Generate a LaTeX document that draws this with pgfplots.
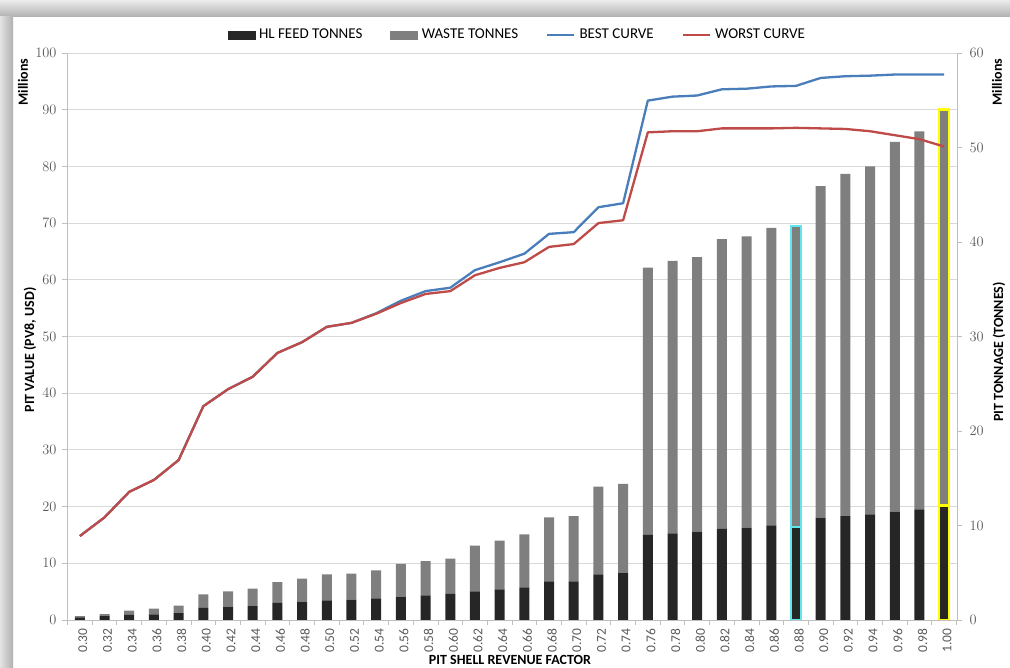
\documentclass[border=0pt]{standalone}
\usepackage{pgfplots}
\pgfplotsset{compat=1.18}
\usepackage{pgfplotstable}
\usepackage{fontspec}
\setmainfont{Carlito}

\definecolor{hlc}{HTML}{262626}
\definecolor{wastec}{HTML}{7F7F7F}
\definecolor{bestc}{HTML}{4A7EBB}
\definecolor{worstc}{HTML}{BE4B48}
\definecolor{cyanc}{HTML}{5FE6EE}
\definecolor{yelc}{HTML}{FFFF00}
\definecolor{gridc}{HTML}{D9D9D9}
\definecolor{axisc}{HTML}{BFBFBF}
\definecolor{tickc}{HTML}{595959}

\pgfplotstableread{
x hl waste best worst
0 0.28 0.14 14.8 14.8
1 0.40 0.23 18.1 18.1
2 0.53 0.46 22.6 22.6
3 0.60 0.60 24.7 24.7
4 0.74 0.77 28.2 28.2
5 1.27 1.45 37.7 37.7
6 1.41 1.62 40.7 40.7
7 1.48 1.83 42.9 42.9
8 1.80 2.22 47.1 47.1
9 1.94 2.43 49.0 49.0
10 2.08 2.75 51.7 51.7
11 2.15 2.75 52.4 52.4
12 2.29 2.97 54.1 54.0
13 2.47 3.46 56.3 55.9
14 2.61 3.63 58.0 57.5
15 2.77 3.72 58.6 58.0
16 3.03 4.83 61.7 60.8
17 3.24 5.15 63.1 62.1
18 3.46 5.60 64.6 63.1
19 4.09 6.77 68.1 65.8
20 4.09 6.91 68.4 66.3
21 4.83 9.27 72.8 70.0
22 5.00 9.40 73.5 70.5
23 9.00 28.30 91.6 86.0
24 9.17 28.83 92.3 86.2
25 9.35 29.05 92.5 86.2
26 9.63 30.67 93.6 86.7
27 9.77 30.83 93.7 86.7
28 10.00 31.50 94.1 86.7
29 9.87 31.83 94.2 86.8
30 10.83 35.07 95.6 86.7
31 11.00 36.20 95.9 86.6
32 11.18 36.82 96.0 86.2
33 11.46 39.14 96.2 85.5
34 11.70 40.00 96.2 84.8
35 12.10 41.90 96.2 83.5
}\data

\pgfplotsset{
  base/.style={
    scale only axis, width=890pt, height=567pt,
    at={(67pt,48pt)}, anchor=south west,
    xmin=-0.52, xmax=35.52,
  },
  hiddenbars/.style={base, ymin=0, ymax=60, hide axis, ybar stacked, bar width=10pt},
}

\begin{document}
\begin{tikzpicture}[x=1pt,y=1pt]
\path[use as bounding box] (0,0) rectangle (1010,668);
\shade[top color=gray!15, bottom color=gray!62] (0,651) rectangle (1010,668);
\shade[left color=gray!22, right color=gray!62] (0,0) rectangle (13,651);

% axis 1: left value axis, grid, category axis
\begin{axis}[base,
  ymin=0, ymax=100, ytick={0,10,...,100},
  axis y line*=left, axis x line*=bottom,
  ymajorgrids, grid style={draw=gridc, line width=0.8pt},
  axis line style={draw=axisc, line width=0.8pt},
  tick align=outside, major tick length=5pt, minor tick length=5pt,
  tick style={draw=axisc, line width=0.8pt},
  xtick={0,...,35},
  xticklabels={0.30,0.32,0.34,0.36,0.38,0.40,0.42,0.44,0.46,0.48,0.50,0.52,0.54,0.56,0.58,0.60,0.62,0.64,0.66,0.68,0.70,0.72,0.74,0.76,0.78,0.80,0.82,0.84,0.86,0.88,0.90,0.92,0.94,0.96,0.98,1.00},
  major x tick style={draw=none},
  minor xtick={-0.5,0.5,...,35.5},
  x tick label style={rotate=90, anchor=east, font=\fontsize{13.5}{15}\selectfont, text=tickc, yshift=-3pt},
  y tick label style={font=\fontsize{13.5}{15}\selectfont, text=tickc, xshift=-2pt},
]
\addplot[draw=none, forget plot] coordinates {(0,0)};
\end{axis}

% axis 2: right tonnage axis with stacked bars
\begin{axis}[base,
  ymin=0, ymax=60, ytick={0,10,...,60},
  axis y line*=right, axis x line=none,
  axis line style={draw=axisc, line width=0.8pt},
  tick align=outside, major tick length=5pt,
  tick style={draw=axisc, line width=0.8pt},
  y tick label style={font=\fontsize{13.5}{15}\selectfont, text=tickc, xshift=4pt},
  ybar stacked, bar width=10pt,
]
\addplot[fill=hlc, draw=none] table[x=x, y=hl]{\data};
\addplot[fill=wastec, draw=none] table[x=x, y=waste]{\data};
\end{axis}

% highlighted bars
\begin{axis}[hiddenbars]
\addplot[fill=hlc, draw=cyanc, line width=2.4pt] coordinates {(29,9.87)};
\addplot[fill=wastec, draw=cyanc, line width=2.4pt] coordinates {(29,31.83)};
\end{axis}
\begin{axis}[hiddenbars]
\addplot[fill=hlc, draw=yelc, line width=2.4pt] coordinates {(35,12.10)};
\addplot[fill=wastec, draw=yelc, line width=2.4pt] coordinates {(35,41.90)};
\end{axis}

% curves and legend
\begin{axis}[base, ymin=0, ymax=100, hide axis,
  legend columns=4,
  legend style={at={(0.506,1.032)}, anchor=center, draw=none, fill=none,
    font=\fontsize{15}{17}\selectfont, text=black,
    /tikz/every even column/.append style={column sep=26pt},
    /tikz/every odd column/.append style={column sep=2pt},
    inner sep=0pt},
]
\addlegendimage{legend image code/.code={\fill[hlc] (0pt,-4pt) rectangle (27pt,4pt);}}
\addlegendentry{HL FEED TONNES}
\addlegendimage{legend image code/.code={\fill[wastec] (0pt,-4pt) rectangle (27pt,4pt);}}
\addlegendentry{WASTE TONNES}
\addplot[bestc, line width=2.3pt, line join=round,
  legend image code/.code={\draw[bestc, line width=2.3pt] (0pt,0pt) -- (27pt,0pt);}]
  table[x=x, y=best]{\data};
\addlegendentry{BEST CURVE}
\addplot[worstc, line width=2.3pt, line join=round,
  legend image code/.code={\draw[worstc, line width=2.3pt] (0pt,0pt) -- (27pt,0pt);}]
  table[x=x, y=worst]{\data};
\addlegendentry{WORST CURVE}
\end{axis}

\node[rotate=90, font=\bfseries\fontsize{14}{16}\selectfont] at (23,586) {Millions};
\node[rotate=90, font=\bfseries\fontsize{14}{16}\selectfont] at (30,318) {PIT VALUE (PV8, USD)};
\node[rotate=90, font=\bfseries\fontsize{14}{16}\selectfont] at (997,586) {Millions};
\node[rotate=90, font=\bfseries\fontsize{14}{16}\selectfont] at (999,316) {PIT TONNAGE (TONNES)};
\node[font=\bfseries\fontsize{14}{16}\selectfont, inner sep=0pt] at (510,8) {PIT SHELL REVENUE FACTOR};
\end{tikzpicture}
\end{document}
